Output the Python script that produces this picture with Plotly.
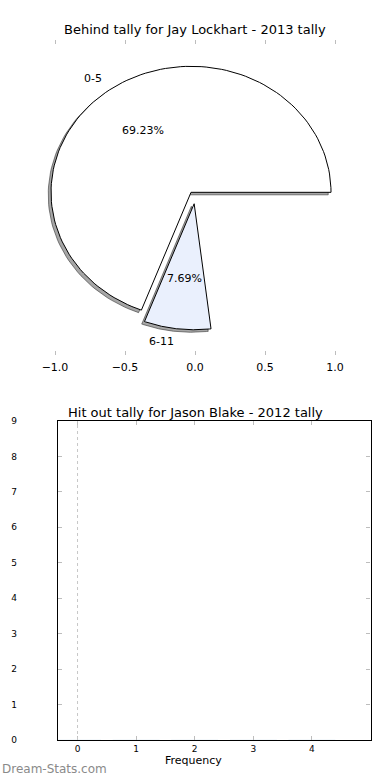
import numpy as np
import plotly.graph_objects as go

# ---- data ----
pie_labels = ["0-5", "6-11"]
pie_counts = [9, 1]
games_total = 13
pie_colors = ["#ffffff", "#eaf0fd"]
explode = [0.05, 0.05]

pie_xticks = [-1.0, -0.5, 0.0, 0.5, 1.0]

bar_categories = [0, 1, 2, 3, 4]
bar_values = [0, 0, 0, 0, 0]
y_ticks = list(range(0, 10))

pie_title = "Behind tally for Jay Lockhart - 2013 tally"
bar_title = "Hit out tally for Jason Blake - 2012 tally"

FONT = "DejaVu Sans"
W, H = 390, 780

fig = go.Figure()


def wedge(t1, t2, cx, cy, r=1.0, n=120):
    th = np.radians(np.linspace(t1, t2, n))
    xs = np.concatenate([[cx], cx + r * np.cos(th), [cx]])
    ys = np.concatenate([[cy], cy + r * np.sin(th), [cy]])
    return xs, ys


fracs = [c / games_total for c in pie_counts]
angles = []
t = 0.0
for f in fracs:
    angles.append((t, t + 360 * f))
    t += 360 * f

centers = []
for (t1, t2), e in zip(angles, explode):
    mid = np.radians((t1 + t2) / 2)
    centers.append((e * np.cos(mid), e * np.sin(mid)))

# shadows
for (t1, t2), (cx, cy) in zip(angles, centers):
    xs, ys = wedge(t1, t2, cx - 0.02, cy - 0.02)
    fig.add_trace(go.Scatter(x=xs, y=ys, mode="lines", fill="toself",
                             fillcolor="rgba(77,77,77,0.5)",
                             line=dict(color="rgba(40,40,40,0.55)", width=1),
                             hoverinfo="skip", showlegend=False,
                             xaxis="x", yaxis="y"))
# wedges
for (t1, t2), (cx, cy), col in zip(angles, centers, pie_colors):
    xs, ys = wedge(t1, t2, cx, cy)
    fig.add_trace(go.Scatter(x=xs, y=ys, mode="lines", fill="toself",
                             fillcolor=col, line=dict(color="black", width=1),
                             hoverinfo="skip", showlegend=False,
                             xaxis="x", yaxis="y"))

# labels
for (t1, t2), (cx, cy), lab, f in zip(angles, centers, pie_labels, fracs):
    mid = np.radians((t1 + t2) / 2)
    lx, ly = cx + 1.1 * np.cos(mid), cy + 1.1 * np.sin(mid)
    fig.add_annotation(x=lx, y=ly, xref="x", yref="y", text=lab, showarrow=False,
                       xanchor="right" if lx < 0 else "left", yanchor="middle",
                       font=dict(family=FONT, size=11, color="black"))
    px, py = cx + 0.6 * np.cos(mid), cy + 0.6 * np.sin(mid)
    fig.add_annotation(x=px, y=py, xref="x", yref="y", text=f"{100*f:.2f}%",
                       showarrow=False, xanchor="center", yanchor="middle",
                       font=dict(family=FONT, size=11, color="black"))

# bottom (empty) bar chart
fig.add_trace(go.Bar(x=bar_categories, y=bar_values, marker_color="#4f81bd",
                     showlegend=False, xaxis="x2", yaxis="y2"))
fig.add_shape(type="line", xref="x2", yref="y2", x0=0, x1=0, y0=0, y1=9,
              line=dict(color="#c8c8c8", width=1, dash="dot"))

# titles / labels
fig.add_annotation(x=195 / W, y=1 - 30 / H, xref="paper", yref="paper", text=pie_title,
                   showarrow=False, xanchor="center", yanchor="middle",
                   font=dict(family=FONT, size=13, color="black"))
fig.add_annotation(x=195 / W, y=1 - 412 / H, xref="paper", yref="paper", text=bar_title,
                   showarrow=False, xanchor="center", yanchor="middle",
                   font=dict(family=FONT, size=13, color="black"))
fig.add_annotation(x=193 / W, y=1 - 760 / H, xref="paper", yref="paper", text="Frequency",
                   showarrow=False, xanchor="center", yanchor="middle",
                   font=dict(family=FONT, size=11, color="black"))
fig.add_annotation(x=0, y=1 - 769 / H, xref="paper", yref="paper", text="Dream-Stats.com",
                   showarrow=False, xanchor="left", yanchor="middle",
                   font=dict(family=FONT, size=12, color="#8a8a8a"))

tick_common = dict(ticks="inside", ticklen=4, tickcolor="#bdbdbd", tickwidth=1,
                   showgrid=False, zeroline=False, automargin=False)

fig.update_layout(
    width=W, height=H,
    margin=dict(l=0, r=0, t=0, b=0, pad=0, autoexpand=False),
    paper_bgcolor="white", plot_bgcolor="white",
    font=dict(family=FONT, color="black"),
    showlegend=False,
    xaxis=dict(domain=[20 / W, 370 / W], range=[-1.25, 1.25], anchor="y",
               tickvals=pie_xticks, tickformat=".1f", showline=False, mirror="ticks",
               tickfont=dict(size=11), ticklabelstandoff=4, **tick_common),
    yaxis=dict(domain=[1 - 355 / H, 1 - 40 / H], range=[-1.25, 1.25], anchor="x",
               visible=False, automargin=False),
    xaxis2=dict(domain=[58 / W, 370.5 / W], range=[-1 / 3, 5], anchor="y2",
                tickvals=bar_categories, showline=True, linecolor="black", linewidth=1.2,
                mirror="ticks", tickfont=dict(size=9), **tick_common),
    yaxis2=dict(domain=[1 - 740 / H, 1 - 421 / H], range=[0, 9], anchor="x2",
                tickvals=y_ticks, showline=True, linecolor="black", linewidth=1.2,
                mirror="ticks", tickfont=dict(size=9), ticklabelstandoff=38,
                **tick_common),
)

fix_page = (
    "var de=document.documentElement, b=document.body;"
    "[de,b].forEach(function(e){e.style.margin='0';e.style.padding='0';"
    "e.style.overflow='hidden';e.style.height='780px';});"
    "window.scrollTo(0,0);"
)
fig.write_html("out.html", config={"displayModeBar": False}, post_script=fix_page)
